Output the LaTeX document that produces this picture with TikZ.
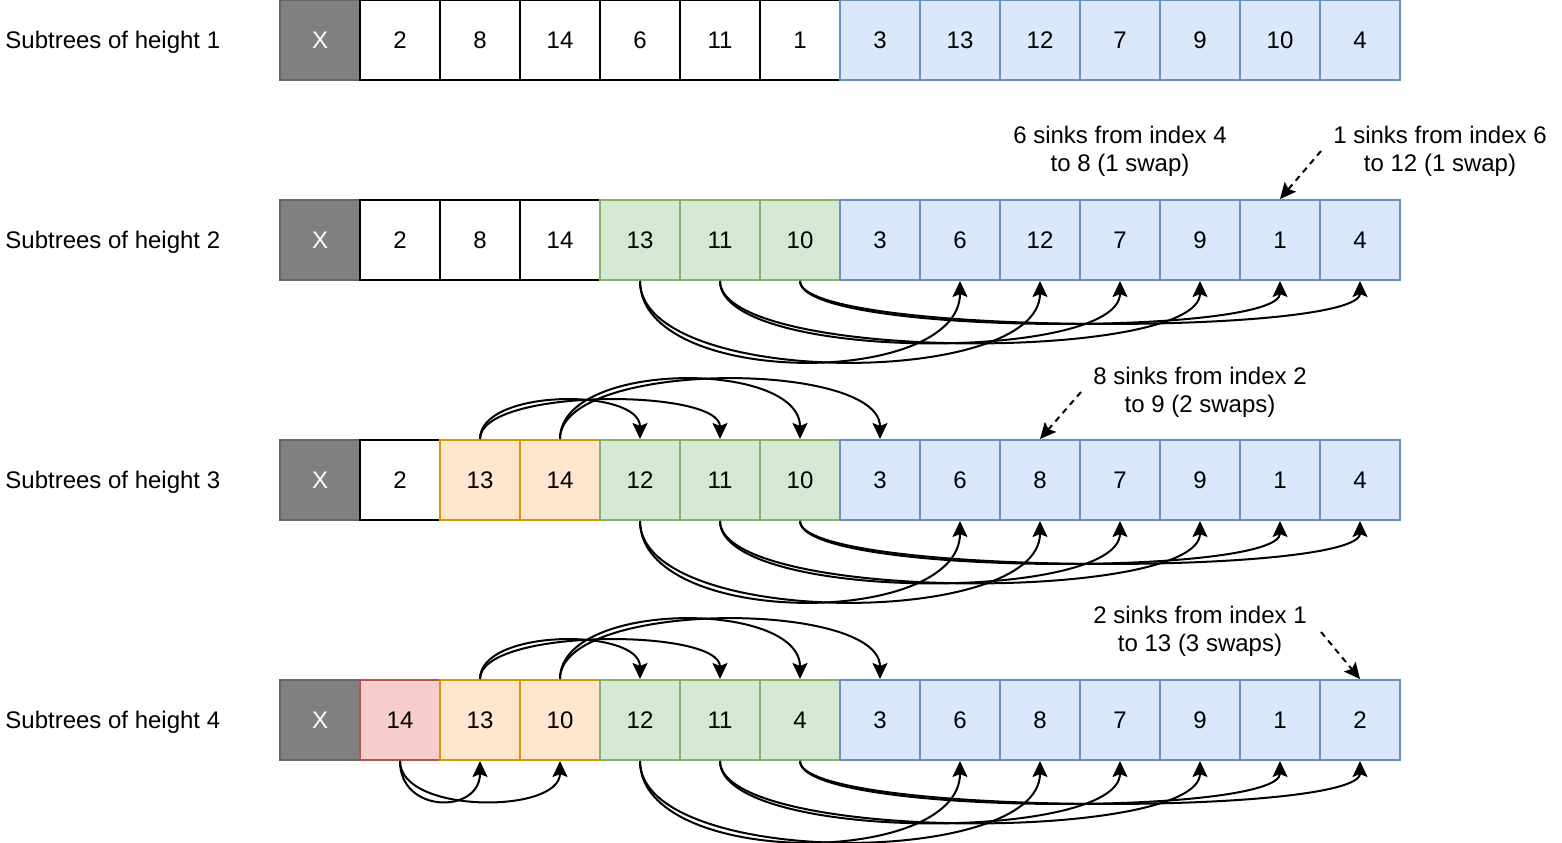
\documentclass[tikz,border=0pt]{standalone}
\usepackage{fontspec}
\setmainfont{Liberation Sans}
\usetikzlibrary{arrows.meta}

\definecolor{xfill}{HTML}{808080}
\definecolor{xline}{HTML}{666666}
\definecolor{bluefill}{HTML}{DAE8FC}
\definecolor{blueline}{HTML}{6C8EBF}
\definecolor{greenfill}{HTML}{D5E8D4}
\definecolor{greenline}{HTML}{82B366}
\definecolor{orangefill}{HTML}{FFE6CC}
\definecolor{orangeline}{HTML}{D79B00}
\definecolor{redfill}{HTML}{F8CECC}
\definecolor{redline}{HTML}{B85450}

\tikzset{
  txt/.style={font=\fontsize{12}{14}\selectfont},
  cell/.style={txt, draw, line width=1pt, minimum size=40pt, inner sep=0pt},
  xcell/.style={cell, fill=xfill, draw=xline, text=white},
  wcell/.style={cell, fill=white, draw=black},
  bcell/.style={cell, fill=bluefill, draw=blueline},
  gcell/.style={cell, fill=greenfill, draw=greenline},
  ocell/.style={cell, fill=orangefill, draw=orangeline},
  rcell/.style={cell, fill=redfill, draw=redline},
  arr/.style={-{Stealth[length=8pt,width=7.5pt,inset=1.5pt]}, line width=1pt},
  dasharr/.style={arr, dash pattern=on 3pt off 2.5pt},
  note/.style={txt, align=center, inner sep=0pt}
}

\begin{document}
\begin{tikzpicture}[x=0.5pt, y=-0.5pt]
\useasboundingbox (0,0) rectangle (1562,842);

% row labels
\node[txt, anchor=west, inner sep=0pt] (h1) at (5,42) {Subtrees of height 1};
\node[txt, anchor=west, inner sep=0pt] (h2) at (5,242) {Subtrees of height 2};
\node[txt, anchor=west, inner sep=0pt] (h3) at (5,482) {Subtrees of height 3};
\node[txt, anchor=west, inner sep=0pt] (h4) at (5,722) {Subtrees of height 4};

% the four arrays
\foreach \v/\s [count=\i from 0] in {X/xcell,2/wcell,8/wcell,14/wcell,6/wcell,11/wcell,1/wcell,3/bcell,13/bcell,12/bcell,7/bcell,9/bcell,10/bcell,4/bcell}
  \node[\s] (r1-\i) at ({320+80*\i},40) {\v};
\foreach \v/\s [count=\i from 0] in {X/xcell,2/wcell,8/wcell,14/wcell,13/gcell,11/gcell,10/gcell,3/bcell,6/bcell,12/bcell,7/bcell,9/bcell,1/bcell,4/bcell}
  \node[\s] (r2-\i) at ({320+80*\i},240) {\v};
\foreach \v/\s [count=\i from 0] in {X/xcell,2/wcell,13/ocell,14/ocell,12/gcell,11/gcell,10/gcell,3/bcell,6/bcell,8/bcell,7/bcell,9/bcell,1/bcell,4/bcell}
  \node[\s] (r3-\i) at ({320+80*\i},480) {\v};
\foreach \v/\s [count=\i from 0] in {X/xcell,14/rcell,13/ocell,10/ocell,12/gcell,11/gcell,4/gcell,3/bcell,6/bcell,8/bcell,7/bcell,9/bcell,1/bcell,2/bcell}
  \node[\s] (r4-\i) at ({320+80*\i},720) {\v};

% notes
\node[note] (n2a) at (1120,151) {6 sinks from index 4\\to 8 (1 swap)};
\node[note] (n2b) at (1440,151) {1 sinks from index 6\\to 12 (1 swap)};
\node[note] (n3) at (1200,392) {8 sinks from index 2\\to 9 (2 swaps)};
\node[note] (n4) at (1200,631) {2 sinks from index 1\\to 13 (3 swaps)};

\coordinate (d2) at (1321,151);
\coordinate (d3) at (1081,392);
\coordinate (d4) at (1321,632);
\draw[dasharr] (d2) -- (r2-12.north);
\draw[dasharr] (d3) -- (r3-9.north);
\draw[dasharr] (d4) -- (r4-13.north);

% moves below the arrays
\foreach \r in {2,3,4}
  \foreach \s/\t/\k in {4/8/107,4/9/107,5/10/81,5/11/81,6/12/55,6/13/55}
    \draw[arr] (r\r-\s.south) .. controls +(0,\k) and +(0,\k) .. (r\r-\t.south);
\foreach \s/\t in {1/2,1/3}
  \draw[arr] (r4-\s.south) .. controls +(0,53) and +(0,53) .. (r4-\t.south);

% moves above the arrays
\foreach \r in {3,4}
  \foreach \s/\t/\k in {2/4/-51,2/5/-51,3/6/-79,3/7/-79}
    \draw[arr] (r\r-\s.north) .. controls +(0,\k) and +(0,\k) .. (r\r-\t.north);
\end{tikzpicture}
\end{document}
